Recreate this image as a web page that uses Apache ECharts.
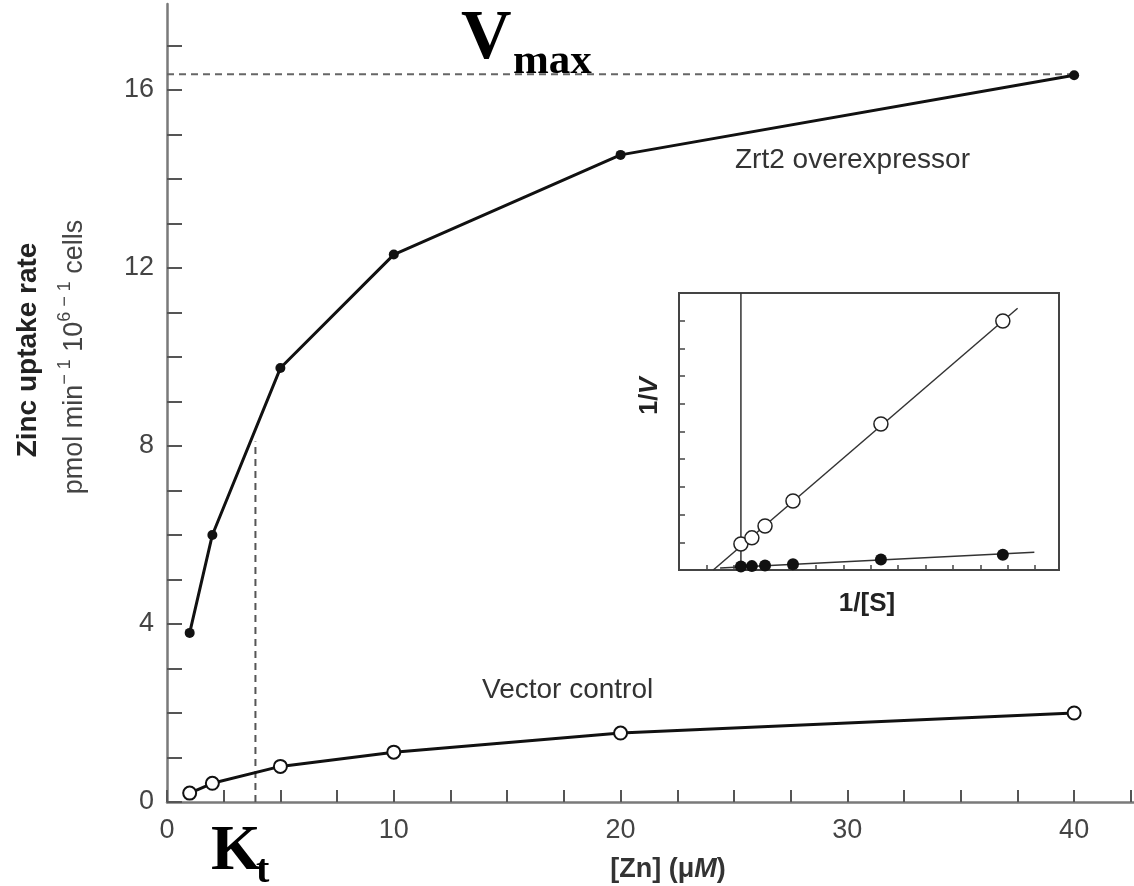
<!DOCTYPE html>
<html>
<head>
<meta charset="utf-8">
<script src="https://cdn.jsdelivr.net/npm/echarts@6.0.0/dist/echarts.min.js"></script>
<style>
    html, body { margin: 0; padding: 0; background: #fff; }
    #main { width: 1134px; height: 886px; }
</style>
</head>
<body>
<div id="main"></div>
<script>
    // main plot: zinc uptake vs [Zn]
    var zincConc = [1, 2, 5, 10, 20, 40];
    var zrt2Rate = [3.8, 6.0, 9.75, 12.3, 14.54, 16.33];
    var vectorRate = [0.2, 0.42, 0.8, 1.12, 1.55, 2.0];
    var vmax = 16.35;
    var kt = 3.9;
    var ktRate = 8.1;
    var xTicks = [0, 2.5, 5, 7.5, 10, 12.5, 15, 17.5, 20, 22.5, 25, 27.5, 30, 32.5, 35, 37.5, 40, 42.5];
    var xLabels = [0, 10, 20, 30, 40];
    var yTicks = [0, 1, 2, 3, 4, 5, 6, 7, 8, 9, 10, 11, 12, 13, 14, 15, 16, 17];
    var yLabels = [0, 4, 8, 12, 16];

    // inset: double reciprocal plot (unlabelled axes)
    var invS = [2.26, 2.66, 3.14, 4.16, 7.37, 11.82];
    var invVVector = [0.94, 1.16, 1.59, 2.49, 5.27, 8.99];
    var invVZrt2 = [0.13, 0.14, 0.16, 0.21, 0.38, 0.55];
    var vectorFitX = [1.25, 12.36];
    var vectorFitY = [0, 9.45];
    var zrt2FitX = [1.5, 12.97];
    var zrt2FitY = [0.07, 0.64];
    var insetYAxisAt = 2.26;
    var insetXTicks = [1, 2, 3, 4, 5, 6, 7, 8, 9, 10, 11, 12, 13];
    var insetYTicks = [1, 2, 3, 4, 5, 6, 7, 8, 9];

    function pairs(xs, ys) {
        var out = [];
        for (var i = 0; i < xs.length; i++) {
            out.push([xs[i], ys[i]]);
        }
        return out;
    }

    var sans = "'Liberation Sans', Arial, Helvetica, sans-serif";
    var serif = "'Liberation Serif', 'Times New Roman', serif";

    var myChart = echarts.init(document.getElementById('main'));

    var option = {
        animation: false,
        backgroundColor: '#fff',
        grid: [
            {left: 167, top: 4, width: 967, height: 798},
            {left: 679, top: 293, width: 380, height: 277, show: true,
                borderColor: '#444', borderWidth: 2, backgroundColor: '#fff'}
        ],
        xAxis: [
            {
                gridIndex: 0, type: 'value', min: 0, max: 42.64,
                axisLine: {show: true, onZero: false, lineStyle: {color: '#7a7a7a', width: 2.5}},
                axisTick: {show: true, inside: true, length: 12, customValues: xTicks,
                    lineStyle: {color: '#555', width: 2}},
                axisLabel: {customValues: xLabels, margin: 15, fontSize: 27,
                    color: '#444', fontFamily: sans},
                splitLine: {show: false}
            },
            {
                gridIndex: 1, type: 'value', min: 0, max: 13.87,
                axisLine: {show: false},
                axisTick: {show: true, inside: true, length: 5, customValues: insetXTicks,
                    lineStyle: {color: '#444', width: 1.5}},
                axisLabel: {show: false},
                splitLine: {show: false}
            }
        ],
        yAxis: [
            {
                gridIndex: 0, type: 'value', min: 0, max: 17.93,
                axisLine: {show: true, onZero: false, lineStyle: {color: '#7a7a7a', width: 2.5}},
                axisTick: {show: true, inside: true, length: 15, customValues: yTicks,
                    lineStyle: {color: '#555', width: 2}},
                axisLabel: {customValues: yLabels, margin: 13, fontSize: 27,
                    color: '#444', fontFamily: sans},
                splitLine: {show: false}
            },
            {
                gridIndex: 1, type: 'value', min: 0, max: 10,
                axisLine: {show: false},
                axisTick: {show: true, inside: true, length: 6, customValues: insetYTicks,
                    lineStyle: {color: '#444', width: 1.5}},
                axisLabel: {show: false},
                splitLine: {show: false}
            }
        ],
        series: [
            { // Vmax guide
                type: 'line', xAxisIndex: 0, yAxisIndex: 0, silent: true,
                data: [[0, vmax], [40, vmax]], symbol: 'none',
                lineStyle: {color: '#666', width: 2, type: [7, 5]}
            },
            { // Kt guide
                type: 'line', xAxisIndex: 0, yAxisIndex: 0, silent: true,
                data: [[kt, 0], [kt, ktRate]], symbol: 'none',
                lineStyle: {color: '#555', width: 2, type: [7, 5]}
            },
            {
                name: 'Zrt2 overexpressor', type: 'line', xAxisIndex: 0, yAxisIndex: 0,
                data: pairs(zincConc, zrt2Rate),
                symbol: 'circle', symbolSize: 10,
                itemStyle: {color: '#111'},
                lineStyle: {color: '#111', width: 3}
            },
            {
                name: 'Vector control', type: 'line', xAxisIndex: 0, yAxisIndex: 0,
                data: pairs(zincConc, vectorRate),
                symbol: 'circle', symbolSize: 13,
                itemStyle: {color: '#fff', borderColor: '#111', borderWidth: 2},
                lineStyle: {color: '#111', width: 3}
            },
            // inset
            {
                type: 'line', xAxisIndex: 1, yAxisIndex: 1, silent: true, z: 3,
                data: [[insetYAxisAt, 0], [insetYAxisAt, 10]], symbol: 'none',
                lineStyle: {color: '#333', width: 1.5}
            },
            {
                type: 'line', xAxisIndex: 1, yAxisIndex: 1, silent: true, z: 3,
                data: pairs(vectorFitX, vectorFitY), symbol: 'none',
                lineStyle: {color: '#333', width: 1.5}
            },
            {
                type: 'line', xAxisIndex: 1, yAxisIndex: 1, silent: true, z: 3,
                data: pairs(zrt2FitX, zrt2FitY), symbol: 'none',
                lineStyle: {color: '#333', width: 1.5}
            },
            {
                type: 'scatter', xAxisIndex: 1, yAxisIndex: 1, z: 4,
                data: pairs(invS, invVVector), symbol: 'circle', symbolSize: 14,
                itemStyle: {color: '#fff', borderColor: '#222', borderWidth: 1.5, opacity: 1}
            },
            {
                type: 'scatter', xAxisIndex: 1, yAxisIndex: 1, z: 4,
                data: pairs(invS, invVZrt2), symbol: 'circle', symbolSize: 12,
                itemStyle: {color: '#111', opacity: 1}
            }
        ],
        graphic: [
            {
                type: 'text', x: 28, y: 350, rotation: Math.PI / 2,
                style: {text: 'Zinc uptake rate', font: 'bold 28px ' + sans, fill: '#222',
                    align: 'center', verticalAlign: 'middle'}
            },
            {
                type: 'text', x: 72, y: 357, rotation: Math.PI / 2,
                style: {
                    text: '{n|pmol min}{s|\u2212 1}{n| 10}{s|6 \u2212 1}{n| cells}',
                    align: 'center', verticalAlign: 'middle',
                    rich: {
                        n: {fontSize: 27, fontFamily: sans, fill: '#444', lineHeight: 32, verticalAlign: 'bottom'},
                        s: {fontSize: 18, fontFamily: sans, fill: '#444', lineHeight: 32, verticalAlign: 'top'}
                    }
                }
            },
            {
                type: 'text', x: 668, y: 870,
                style: {
                    text: '{b|[Zn] (\u03bc}{i|M}{b|)}',
                    align: 'center', verticalAlign: 'middle',
                    rich: {
                        b: {fontSize: 27, fontWeight: 'bold', fontFamily: sans, fill: '#333'},
                        i: {fontSize: 27, fontWeight: 'bold', fontStyle: 'italic', fontFamily: sans, fill: '#333'}
                    }
                }
            },
            {
                type: 'text', x: 735, y: 160,
                style: {text: 'Zrt2 overexpressor', font: '28px ' + sans, fill: '#333',
                    align: 'left', verticalAlign: 'middle'}
            },
            {
                type: 'text', x: 482, y: 690,
                style: {text: 'Vector control', font: '28px ' + sans, fill: '#333',
                    align: 'left', verticalAlign: 'middle'}
            },
            {
                type: 'text', x: 650, y: 396, rotation: Math.PI / 2, z: 10,
                style: {
                    text: '{a|1/}{b|V}',
                    align: 'center', verticalAlign: 'middle',
                    rich: {
                        a: {fontSize: 25, fontWeight: 'bold', fontFamily: sans, fill: '#222'},
                        b: {fontSize: 25, fontWeight: 'bold', fontStyle: 'italic', fontFamily: sans, fill: '#222'}
                    }
                }
            },
            {
                type: 'text', x: 867, y: 604,
                style: {text: '1/[S]', font: 'bold 26px ' + sans, fill: '#222',
                    align: 'center', verticalAlign: 'middle'}
            },
            {
                type: 'text', x: 461, y: 40,
                style: {text: 'V', font: 'bold 70px ' + serif, fill: '#000',
                    align: 'left', verticalAlign: 'middle'}
            },
            {
                type: 'text', x: 513, y: 62,
                style: {text: 'max', font: 'bold 43px ' + serif, fill: '#000',
                    align: 'left', verticalAlign: 'middle'}
            },
            {
                type: 'text', x: 211, y: 852,
                style: {text: 'K', font: 'bold 64px ' + serif, fill: '#000',
                    align: 'left', verticalAlign: 'middle'}
            },
            {
                type: 'text', x: 256, y: 872,
                style: {text: 't', font: 'bold 40px ' + serif, fill: '#000',
                    align: 'left', verticalAlign: 'middle'}
            }
        ]
    };

    myChart.setOption(option);
</script>
</body>
</html>
